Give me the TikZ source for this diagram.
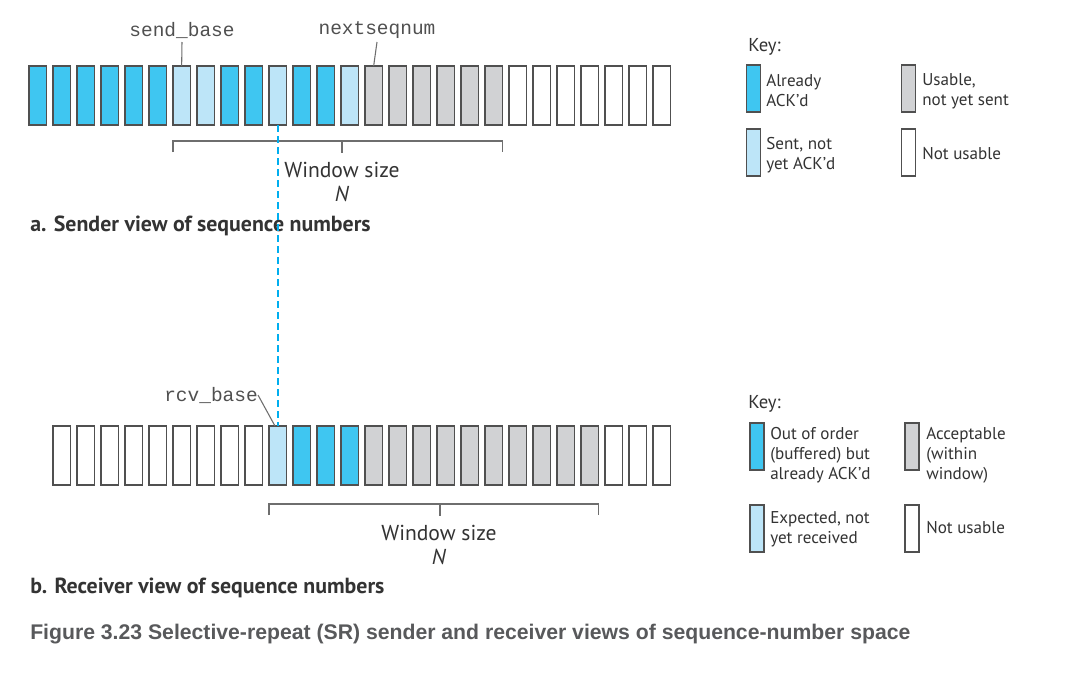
\documentclass[tikz,border=0pt]{standalone}
\usepackage{fontspec}
\setmainfont{PT Sans}
\newfontfamily\codefont{Liberation Mono}
\newfontfamily\capfont{Liberation Sans}
\definecolor{cD}{HTML}{3FC6F1}
\definecolor{cL}{HTML}{BDE5F8}
\definecolor{cG}{HTML}{D1D2D4}
\definecolor{cW}{HTML}{FFFFFF}
\definecolor{edge}{HTML}{505050}
\definecolor{brk}{HTML}{6E6E6E}
\definecolor{txt}{HTML}{333333}
\definecolor{dashblue}{HTML}{00AEEF}
\definecolor{captxt}{HTML}{58595B}
\begin{document}
\begin{tikzpicture}[x=0.75pt,y=-0.75pt,
  cell/.style={draw=edge,line width=1pt,minimum width=13pt,minimum height=44.25pt,inner sep=0pt,outer sep=0pt},
  keycell/.style={draw=edge,line width=1pt,minimum width=10.5pt,minimum height=35.25pt,inner sep=0pt,outer sep=0pt},
  keytext/.style={anchor=west,align=left,inner sep=0pt,text=txt,font=\fontsize{12.8pt}{15pt}\selectfont},
  wintext/.style={inner sep=0pt,text=txt,font=\fontsize{16.2pt}{18pt}\selectfont},
  code/.style={inner sep=0pt,text=edge,font=\codefont\fontsize{14.6pt}{16pt}\selectfont},
  heading/.style={anchor=west,inner sep=0pt,text=txt,font=\bfseries\fontsize{16.4pt}{18pt}\selectfont},
  leader/.style={draw=brk,line width=0.8pt},
  bracket/.style={draw=brk,line width=0.8pt},
  guide/.style={draw=dashblue,line width=1.4pt,dash pattern=on 5.25pt off 3pt}]
\useasboundingbox[fill=white] (0,0) rectangle (1070,672);

% sender row
\foreach \c [count=\i from 0] in {cD,cD,cD,cD,cD,cD,cL,cL,cD,cD,cL,cD,cD,cL,cG,cG,cG,cG,cG,cG,cW,cW,cW,cW,cW,cW,cW}
  {\node[cell,fill=\c] (t\i) at ({37.65+24*\i},95.5) {};}
% receiver row
\foreach \c [count=\i from 0] in {cW,cW,cW,cW,cW,cW,cW,cW,cW,cL,cD,cD,cD,cG,cG,cG,cG,cG,cG,cG,cG,cG,cG,cW,cW,cW}
  {\node[cell,fill=\c] (r\i) at ({61.65+24*\i},455.5) {};}

% sender labels
\node[code] (sb) at (182,30) {send\_base};
\node[code] (ns) at (377,30) {nextseqnum};
\draw[leader] (sb.south |- 0,42) -- (t6.north);
\draw[leader] (ns.south |- 0,42) -- (t14.north);

% sender window bracket
\coordinate (wa1) at (t6.south west |- 0,141);
\coordinate (wa2) at (t19.south east |- 0,141);
\coordinate (wam) at (342,141);
\draw[bracket] ([yshift=-8.25pt]wa1) -- (wa1) -- (wa2) -- ([yshift=-8.25pt]wa2);
\draw[bracket] (wam) -- ++(0,12);
\node[wintext] (wsa) at (342,170) {Window size};
\node[wintext] (na) at (342,194) {\textit{N}};
\node[heading] (ha) at (30,226) {a. Sender view of sequence numbers};

% receiver labels
\node[code,anchor=east] (rb) at (258,395) {rcv\_base};
\draw[leader] (rb.east) -- ([xshift=-2pt]r9.north);

% receiver window bracket
\coordinate (wb1) at (r9.south west |- 0,504);
\coordinate (wb2) at (r22.south east |- 0,504);
\coordinate (wbm) at (440,504);
\draw[bracket] ([yshift=-8.25pt]wb1) -- (wb1) -- (wb2) -- ([yshift=-8.25pt]wb2);
\draw[bracket] (wbm) -- ++(0,12);
\node[wintext] (wsb) at (439,533) {Window size};
\node[wintext] (nb) at (439,557) {\textit{N}};
\node[heading] (hb) at (30,588) {b. Receiver view of sequence numbers};

% dashed alignment line (drawn on top)
\draw[guide] (t10.south) -- (r9.north);

% sender key
\node[keytext,font=\fontsize{14pt}{16pt}\selectfont] (ka) at (748,47) {Key:};
\node[keycell,fill=cD] (ka1) at (753.5,88.5) {};
\node[keytext] (ka1t) at (766,91) {Already\\ACK’d};
\node[keycell,fill=cG] (ka2) at (908.5,88.5) {};
\node[keytext] (ka2t) at (922,91) {Usable,\\not yet sent};
\node[keycell,fill=cL] (ka3) at (753.5,152.5) {};
\node[keytext] (ka3t) at (766,155) {Sent, not\\yet ACK’d};
\node[keycell,fill=cW] (ka4) at (908.5,152.5) {};
\node[keytext] (ka4t) at (922,154) {Not usable};

% receiver key
\node[keytext,font=\fontsize{14pt}{16pt}\selectfont] (kb) at (748,404) {Key:};
\node[keycell,fill=cD] (kb1) at (757,446.5) {};
\node[keytext] (kb1t) at (770,455) {Out of order\\(buffered) but\\already ACK’d};
\node[keycell,fill=cG] (kb2) at (912,446.5) {};
\node[keytext] (kb2t) at (926,455) {Acceptable\\(within\\window)};
\node[keycell,fill=cL] (kb3) at (757,528.5) {};
\node[keytext] (kb3t) at (770,529) {Expected, not\\yet received};
\node[keycell,fill=cW] (kb4) at (912,528.5) {};
\node[keytext] (kb4t) at (926,528) {Not usable};

% caption
\node[anchor=west,inner sep=0pt,text=captxt,font=\capfont\bfseries\fontsize{15.9pt}{18pt}\selectfont] (cap) at (30,634)
  {Figure 3.23 Selective-repeat (SR) sender and receiver views of sequence-number space};
\end{tikzpicture}
\end{document}
